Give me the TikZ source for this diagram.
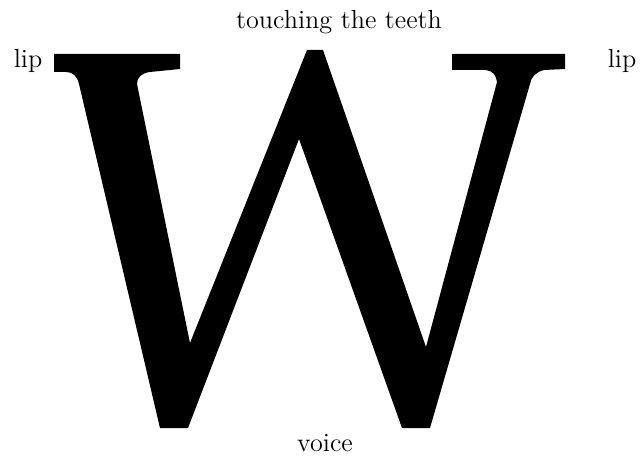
\documentclass[tikz,border=0pt]{standalone}
\usepackage{tikz}

\begin{document}
\begin{tikzpicture}[
    x = 0.02cm, y = -0.02cm,
    glyph/.style = {fill=black, draw=none},
    word/.style = {anchor=base, inner sep=0pt, font=\fontsize{14.9}{18}\selectfont}
]
\useasboundingbox (0,0) rectangle (643,456);

\path [glyph] (54,54) -- (180,54) -- (180,69) -- (150,72)
    .. controls (141,73) and (137,78) .. (137,84) -- (190,343) -- (307,50) -- (323,50)
    -- (426,347) -- (497,82) .. controls (496,75) and (493,71) .. (486,70) -- (452,70)
    -- (452,54) -- (565,54) -- (565,69) -- (544,70)
    .. controls (536,72) and (531,77) .. (530,84) -- (430,428) -- (402,428)
    -- (299,139) -- (188,428) -- (160,428) -- (79,84)
    .. controls (77,76) and (73,72) .. (66,72) -- (54,72) -- cycle;

\node (teeth) [word] at (339,29) {touching the teeth};
\node (lipleft) [word] at (28,68) {lip};
\node (lipright) [word] at (622,68) {lip};
\node (voice) [word] at (325,451) {voice};

\end{tikzpicture}
\end{document}
